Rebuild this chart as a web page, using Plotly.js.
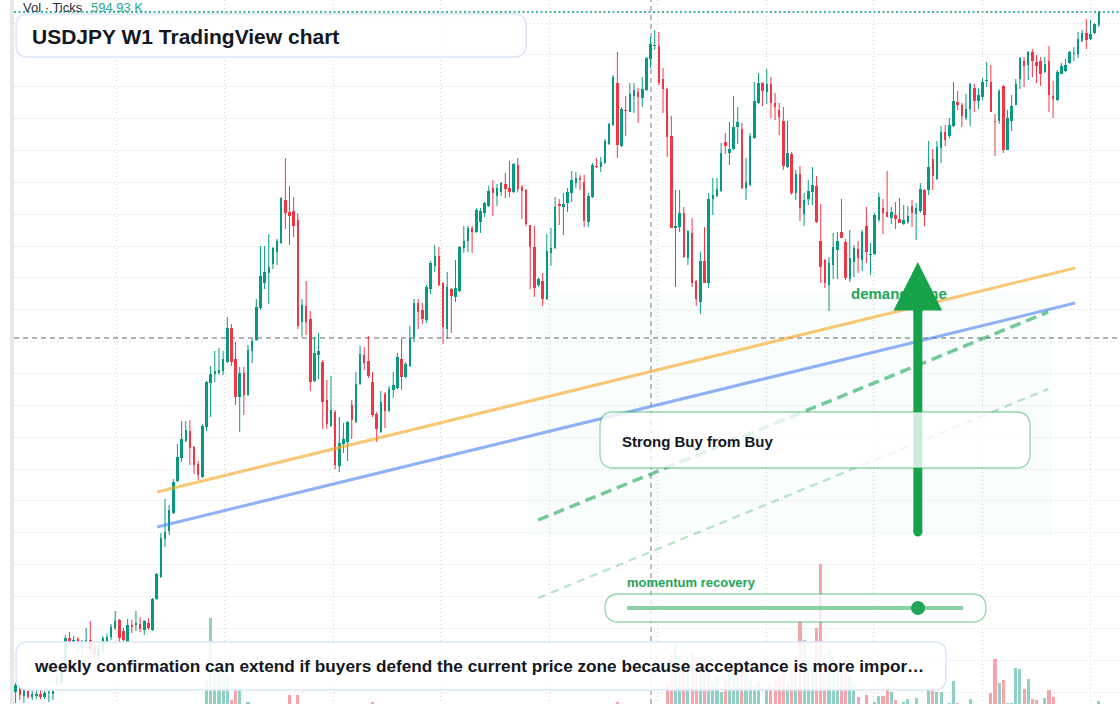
<!DOCTYPE html>
<html>
<head>
<meta charset="utf-8">
<script src="https://cdn.plot.ly/plotly-3.0.1.min.js"></script>
<style>
  html, body { margin: 0; padding: 0; background: #ffffff; }
  #chart { width: 1120px; height: 704px; }
</style>
</head>
<body>
<div id="chart"></div>
<script>
// USDJPY weekly candles (first bar: week of 2019-07-15)
const firstWeekUTC = Date.UTC(2019, 6, 15);

const opens = [
  100.8, 101.2, 100.4, 100.9, 100.3, 100.4, 100.6, 100.3, 100.7, 100.6,
  101.6, 101.8, 103.0, 106.2, 105.8, 106.1, 105.2, 105.8, 106.0, 105.2,
  104.4, 105.0, 105.8, 106.3, 107.2, 108.0, 106.9, 105.8, 107.5, 107.5,
  107.6, 107.0, 107.7, 107.0, 110.1, 112.3, 116.1, 116.9, 118.7, 121.9,
  124.2, 125.9, 126.9, 125.3, 123.6, 122.3, 127.3, 131.7, 132.6, 132.7,
  132.9, 133.8, 137.2, 134.1, 130.3, 132.7, 130.5, 134.9, 136.0, 139.2,
  141.7, 142.7, 143.6, 144.8, 145.7, 150.0, 148.8, 148.9, 148.0, 137.8,
  139.4, 138.1, 131.9, 134.5, 133.8, 130.0, 127.4, 128.8, 123.4, 125.6,
  125.8, 129.5, 127.8, 131.6, 134.5, 133.9, 131.8, 128.6, 126.8, 130.6,
  128.9, 131.0, 131.2, 134.1, 132.3, 133.4, 136.3, 139.7, 139.0, 138.0,
  141.1, 143.4, 144.4, 141.7, 137.1, 141.1, 140.3, 140.9, 145.2, 145.9,
  147.2, 146.8, 147.8, 148.7, 149.4, 151.2, 150.4, 150.8, 151.6, 151.2,
  150.8, 153.5, 151.3, 151.0, 147.5, 145.3, 141.5, 141.9, 140.1, 144.7,
  145.2, 149.6, 149.3, 149.7, 150.7, 151.7, 152.2, 151.8, 147.8, 150.3,
  153.4, 153.3, 153.7, 155.6, 157.5, 161.7, 155.4, 159.0, 158.8, 160.4,
  160.8, 160.2, 161.0, 164.1, 165.4, 165.4, 162.1, 161.1, 156.4, 147.2,
  147.3, 148.7, 144.2, 146.7, 141.9, 139.8, 143.9, 141.7, 150.1, 150.4,
  150.9, 155.8, 154.7, 155.1, 157.3, 157.1, 151.2, 151.5, 156.2, 159.7,
  161.7, 160.8, 161.6, 159.7, 159.0, 157.9, 153.3, 154.6, 150.7, 152.6,
  148.6, 150.1, 150.8, 151.4, 145.9, 144.0, 141.5, 143.5, 145.0, 146.8,
  145.8, 142.1, 143.8, 145.1, 144.0, 147.4, 144.5, 144.6, 148.0, 149.2,
  148.8, 148.2, 148.5, 148.1, 147.6, 147.8, 149.4, 148.6, 148.9, 151.0,
  151.0, 154.1, 152.1, 155.2, 156.8, 156.4, 157.4, 159.8, 159.5, 158.2,
  159.1, 161.2, 159.9, 160.3, 161.9, 161.8, 157.9, 157.9, 161.4, 155.0,
  157.9, 159.5, 162.1, 163.9, 163.5, 164.8, 163.8, 163.9, 162.8, 163.9,
  160.4, 160.0, 162.6, 162.9, 163.7, 164.65, 164.6, 165.9, 166.7, 166.1,
  166.7, 167.5
];

const highs = [
  101.7, 101.5, 101.1, 101.2, 101.0, 101.0, 101.0, 100.9, 101.0, 101.1,
  102.4, 103.2, 106.5, 106.8, 106.4, 106.3, 106.0, 107.2, 107.9, 105.6,
  105.5, 106.4, 106.6, 107.6, 108.9, 108.1, 107.2, 108.1, 108.0, 108.9,
  108.3, 108.0, 108.2, 110.2, 112.7, 116.7, 120.1, 119.5, 122.1, 125.6,
  127.9, 127.9, 128.0, 125.4, 123.9, 127.6, 131.9, 133.4, 134.9, 135.2,
  134.9, 138.3, 137.6, 135.8, 133.3, 133.3, 135.5, 136.1, 140.1, 145.4,
  145.4, 146.6, 145.3, 146.1, 150.3, 154.2, 151.4, 150.3, 148.7, 140.1,
  141.9, 138.9, 136.3, 136.7, 134.0, 132.0, 132.4, 129.0, 128.3, 127.7,
  127.9, 130.0, 132.8, 135.4, 135.3, 136.4, 132.8, 128.8, 130.9, 130.8,
  131.4, 132.8, 134.7, 136.1, 133.8, 137.4, 140.1, 140.1, 139.7, 141.5,
  143.9, 145.5, 145.3, 141.8, 142.8, 141.2, 144.0, 145.4, 147.4, 147.4,
  147.4, 149.2, 149.2, 149.8, 151.4, 152.0, 151.6, 151.8, 152.7, 153.9,
  153.7, 154.2, 151.5, 151.1, 147.5, 147.4, 142.2, 142.7, 146.6, 147.2,
  150.3, 150.1, 150.7, 151.2, 152.9, 152.8, 152.5, 152.5, 150.7, 153.7,
  154.2, 154.3, 156.1, 157.7, 162.5, 164.8, 159.3, 160.4, 161.7, 161.7,
  161.2, 162.3, 164.3, 166.3, 167.0, 166.8, 163.2, 161.2, 158.4, 151.0,
  151.0, 149.3, 147.0, 148.2, 142.0, 144.8, 147.3, 150.7, 152.2, 152.2,
  155.7, 156.7, 157.8, 160.4, 159.3, 157.7, 154.2, 156.7, 161.8, 162.7,
  161.8, 163.1, 162.3, 160.7, 159.7, 159.3, 157.9, 154.8, 153.0, 153.4,
  150.7, 152.0, 153.3, 152.4, 149.6, 144.1, 144.3, 146.7, 146.8, 150.1,
  146.1, 147.0, 145.5, 145.9, 147.0, 149.3, 145.7, 148.7, 150.7, 150.1,
  152.9, 149.3, 149.8, 150.2, 149.5, 149.4, 150.0, 149.7, 151.7, 151.1,
  155.9, 155.1, 155.9, 157.4, 157.5, 158.2, 161.8, 160.9, 159.7, 160.6,
  161.7, 161.6, 161.2, 162.2, 163.8, 163.5, 158.6, 161.1, 161.5, 159.0,
  160.5, 162.1, 164.3, 164.3, 164.9, 165.1, 164.5, 164.3, 164.3, 165.4,
  161.9, 163.0, 163.7, 164.1, 164.9, 165.3, 166.8, 167.0, 168.1, 168.0,
  167.7, 168.9
];

const lows = [
  99.7, 100.0, 99.7, 100.1, 100.0, 100.1, 100.1, 100.1, 99.8, 100.0,
  101.4, 101.6, 102.8, 105.0, 105.2, 104.8, 104.5, 105.2, 104.6, 104.0,
  104.0, 104.5, 105.3, 106.0, 107.0, 105.7, 105.7, 105.6, 106.7, 106.9,
  106.8, 106.5, 107.0, 106.9, 110.0, 112.2, 115.3, 116.5, 118.6, 121.8,
  123.8, 125.8, 123.5, 122.6, 122.0, 122.2, 126.9, 128.3, 131.8, 132.5,
  132.5, 133.7, 133.4, 129.5, 126.8, 128.5, 130.4, 133.7, 135.9, 139.0,
  141.1, 139.6, 143.1, 143.5, 145.6, 147.1, 145.5, 146.3, 137.1, 136.3,
  136.5, 130.9, 131.8, 132.1, 127.1, 127.1, 127.3, 123.1, 122.8, 124.7,
  123.9, 126.1, 127.7, 131.5, 133.0, 132.2, 128.3, 125.8, 126.7, 127.2,
  128.8, 130.2, 131.1, 131.0, 132.2, 133.3, 135.8, 137.1, 137.6, 137.7,
  140.6, 142.8, 141.4, 135.6, 136.1, 136.7, 139.8, 140.8, 144.7, 144.8,
  144.7, 146.7, 146.7, 148.3, 149.3, 148.4, 149.4, 150.4, 150.2, 150.3,
  150.7, 150.8, 148.1, 147.4, 141.1, 140.3, 141.3, 139.4, 140.0, 143.4,
  145.1, 147.5, 146.5, 148.8, 149.8, 151.2, 151.0, 147.3, 147.3, 150.2,
  153.2, 152.8, 153.6, 155.5, 157.4, 154.2, 155.3, 156.4, 158.8, 158.7,
  157.7, 159.3, 160.9, 163.2, 165.0, 161.5, 158.7, 154.3, 147.2, 141.3,
  146.8, 144.2, 143.5, 141.3, 139.4, 138.6, 141.7, 141.2, 148.5, 150.3,
  150.8, 154.6, 153.5, 155.0, 155.6, 151.1, 150.0, 151.4, 156.1, 159.6,
  159.4, 159.6, 158.2, 158.0, 156.5, 153.0, 153.2, 150.5, 150.0, 147.9,
  147.4, 149.5, 149.5, 147.7, 141.7, 141.2, 138.9, 142.1, 142.1, 146.2,
  142.0, 141.8, 142.3, 142.7, 142.9, 143.7, 142.5, 144.5, 147.8, 146.6,
  148.3, 147.6, 147.1, 147.7, 147.5, 147.6, 147.3, 146.0, 148.7, 147.4,
  150.5, 151.0, 152.0, 153.7, 155.4, 156.2, 157.3, 159.0, 157.3, 158.0,
  157.4, 158.8, 159.1, 160.0, 161.3, 158.8, 154.4, 157.6, 154.7, 155.0,
  156.9, 159.5, 161.1, 161.3, 162.0, 162.3, 161.7, 161.4, 162.7, 158.8,
  158.2, 159.9, 162.6, 162.8, 163.6, 163.9, 164.2, 165.8, 165.1, 166.0,
  166.6, 167.3
];

const closes = [
  101.5, 100.5, 101.0, 100.3, 100.6, 100.6, 100.3, 100.7, 100.8, 100.9,
  102.2, 102.9, 106.2, 105.7, 106.0, 105.7, 105.8, 106.0, 105.0, 104.5,
  105.2, 106.2, 106.3, 107.3, 107.9, 106.2, 106.0, 107.5, 107.35, 107.7,
  107.1, 107.9, 107.2, 110.1, 112.6, 116.2, 116.8, 119.0, 121.8, 124.3,
  126.1, 127.0, 125.2, 123.5, 122.5, 127.4, 131.8, 132.6, 132.9, 133.0,
  134.1, 137.2, 133.8, 130.3, 132.7, 130.5, 135.0, 135.9, 139.3, 142.4,
  142.8, 143.3, 145.2, 145.9, 150.2, 148.7, 148.4, 147.4, 137.4, 139.5,
  137.8, 131.8, 134.7, 134.9, 129.8, 127.6, 129.0, 123.5, 125.7, 126.1,
  127.8, 128.0, 131.6, 134.6, 133.7, 132.4, 128.5, 127.1, 129.8, 128.9,
  131.1, 131.5, 134.3, 132.3, 133.6, 136.2, 139.7, 138.8, 138.1, 141.3,
  143.7, 144.4, 141.5, 137.3, 141.3, 140.4, 141.2, 145.3, 145.9, 147.2,
  146.8, 149.0, 148.9, 149.7, 150.9, 150.7, 151.2, 151.7, 151.1, 150.8,
  153.6, 151.1, 150.9, 147.6, 145.3, 141.2, 142.1, 140.1, 144.9, 145.2,
  149.3, 149.4, 149.6, 150.8, 152.0, 152.2, 152.0, 147.9, 150.4, 153.5,
  153.3, 153.8, 155.9, 157.6, 162.3, 155.5, 159.1, 158.9, 160.6, 161.0,
  160.3, 161.1, 164.2, 165.6, 165.5, 161.7, 161.1, 156.3, 147.2, 147.4,
  148.7, 144.3, 146.9, 141.7, 140.1, 143.9, 141.7, 150.1, 150.5, 151.1,
  154.7, 155.4, 155.1, 157.3, 157.8, 151.2, 151.8, 156.4, 159.9, 161.7,
  160.9, 161.6, 159.7, 159.3, 158.3, 153.4, 154.7, 150.7, 152.6, 149.2,
  150.0, 150.9, 151.5, 147.8, 143.3, 141.7, 143.7, 145.3, 145.9, 146.2,
  142.2, 144.2, 145.2, 144.2, 146.8, 144.8, 144.6, 148.5, 150.3, 148.7,
  148.3, 148.8, 148.1, 147.7, 148.0, 148.4, 148.7, 149.2, 151.1, 148.5,
  153.3, 152.4, 155.3, 156.8, 156.0, 157.5, 159.9, 159.5, 158.4, 159.1,
  161.6, 159.9, 160.5, 161.8, 162.0, 158.8, 157.8, 160.9, 155.0, 158.2,
  159.4, 161.6, 164.2, 163.4, 164.8, 163.9, 163.4, 162.6, 163.6, 160.5,
  160.1, 162.8, 163.4, 163.5, 164.8, 164.75, 166.1, 166.7, 166.0, 166.6,
  167.6, 168.8
];

// Tick volume per week, in thousands
const volumesK = [
  0, 0, 0, 0, 0, 0, 0, 0, 0, 0,
  0, 0, 0, 0, 0, 0, 0, 0, 0, 0,
  0, 0, 0, 0, 0, 0, 0, 0, 0, 0,
  0, 0, 0, 0, 0, 0, 0, 0, 0, 0,
  0, 0, 0, 0, 0, 0, 4760, 17050, 7730, 7140,
  6150, 5350, 790, 2780, 2780, 0, 400, 0, 0, 0,
  0, 0, 0, 0, 0, 0, 1780, 0, 1780, 0,
  0, 0, 0, 0, 0, 0, 0, 0, 0, 0,
  0, 0, 0, 0, 0, 0, 400, 0, 0, 0,
  0, 0, 0, 0, 0, 0, 0, 0, 0, 0,
  0, 0, 0, 0, 0, 0, 0, 0, 0, 0,
  0, 0, 0, 0, 0, 0, 0, 0, 0, 0,
  0, 0, 0, 0, 0, 0, 0, 0, 0, 0,
  0, 0, 0, 0, 0, 0, 0, 0, 0, 0,
  0, 0, 0, 0, 0, 400, 0, 0, 0, 0,
  0, 0, 0, 0, 0, 0, 0, 4160, 9920, 12100,
  9720, 8730, 8730, 10110, 9320, 9120, 9120, 6740, 4360, 5550,
  2380, 5160, 6740, 8130, 6740, 7340, 6740, 4760, 3770, 4560,
  0, 2780, 4160, 4760, 5750, 7730, 4160, 6740, 8130, 16460,
  12690, 8720, 7730, 15070, 27760, 9720, 10710, 8720, 6740, 7730,
  8720, 5750, 3770, 1390, 0, 1790, 0, 400, 1590, 1590,
  3570, 2380, 790, 0, 400, 990, 0, 1190, 0, 0,
  2780, 3170, 2380, 2380, 0, 200, 4560, 200, 0, 0,
  990, 0, 0, 0, 0, 2180, 8920, 4160, 4760, 200,
  200, 7140, 6940, 2970, 4960, 990, 790, 0, 1190, 2780,
  1390, 0, 0, 0, 0, 0, 0, 0, 0, 0,
  0, 594.93
];

// Chart drawings, anchored at [week index, price]
const trendUpper = [[34.1, 120.8], [255.3, 143.2]];
const trendLower = [[34.1, 117.3], [255.3, 139.7]];
const channelMid = [[125.9, 118.0], [248.8, 138.8]];
const channelLow = [[125.9, 110.2], [248.8, 131.1]];
const demandZone = {weeks: [123.5, 249.7], prices: [116.5, 140.8]};
const crosshair = {week: 153.1, price: 136.2};
const buyArrow = {week: 217.4, tail: 116.8, headBase: 139.4, tip: 143.8};

// Text shown on the chart
const titleText = 'USDJPY W1 TradingView chart';
const noteText = 'weekly confirmation can extend if buyers defend the current price zone because acceptance is more impor\u2026';
const ratingText = 'Strong Buy from Buy';
const momentumText = 'momentum recovery';
const zoneText = 'demand zone';
const volumeName = 'Vol \u00b7 Ticks';

// ---------------------------------------------------------------
const DAY = 86400000, WEEK = 7 * DAY;
const fmt = ms => new Date(ms).toISOString().replace('T', ' ').slice(0, 19);
const atWeek = k => fmt(firstWeekUTC + k * WEEK);
const weekDates = opens.map((_, i) => atWeek(i));

const UP = '#089981', DOWN = '#f23645';
const isUp = closes.map((c, i) => c >= opens[i]);

function wicks(up) {
  const x = [], y = [];
  opens.forEach((o, i) => {
    if (isUp[i] !== up) return;
    x.push(weekDates[i], weekDates[i], null);
    y.push(lows[i], highs[i], null);
  });
  return {
    type: 'scatter', mode: 'lines', x, y,
    line: {color: up ? UP : DOWN, width: 1},
    hoverinfo: 'skip', showlegend: false
  };
}

const volumeTrace = {
  type: 'bar', x: weekDates, y: volumesK, yaxis: 'y2',
  width: 0.75 * WEEK,
  marker: {color: isUp.map(u => u ? 'rgba(8,153,129,0.45)' : 'rgba(242,54,69,0.45)'), line: {width: 0}},
  hoverinfo: 'skip', showlegend: false
};

const bodyTrace = {
  type: 'bar', x: weekDates,
  base: opens.map((o, i) => Math.min(o, closes[i])),
  y: opens.map((o, i) => Math.max(Math.abs(closes[i] - o), 0.1)),
  width: 0.6 * WEEK,
  marker: {color: isUp.map(u => u ? UP : DOWN), line: {width: 0}},
  hoverinfo: 'skip', showlegend: false
};

// pixel helpers for overlay panels (plot area starts 14px from the left)
const W = 1106, H = 704, L = 14;
const px = v => (v - L) / W;
const py = v => 1 - v / H;

function roundedPanel(x0, y0, x1, y1, r) {
  const p = (x, y) => px(x).toFixed(5) + ',' + py(y).toFixed(5);
  return 'M' + p(x0 + r, y0) + ' L' + p(x1 - r, y0) + ' Q' + p(x1, y0) + ' ' + p(x1, y0 + r) +
         ' L' + p(x1, y1 - r) + ' Q' + p(x1, y1) + ' ' + p(x1 - r, y1) +
         ' L' + p(x0 + r, y1) + ' Q' + p(x0, y1) + ' ' + p(x0, y1 - r) +
         ' L' + p(x0, y0 + r) + ' Q' + p(x0, y0) + ' ' + p(x0 + r, y0) + ' Z';
}

const seg = (pts, line) => ({
  type: 'line', xref: 'x', yref: 'y', layer: 'above',
  x0: atWeek(pts[0][0]), y0: pts[0][1], x1: atWeek(pts[1][0]), y1: pts[1][1], line
});

const GREEN = '#16a34a';
const shapes = [
  // left rail
  {type: 'rect', xref: 'paper', yref: 'paper', x0: px(10), x1: px(14), y0: 0, y1: 1,
   fillcolor: '#e8e8e8', line: {width: 0}, layer: 'below'},
  // demand zone
  {type: 'rect', xref: 'x', yref: 'y', layer: 'below',
   x0: atWeek(demandZone.weeks[0]), x1: atWeek(demandZone.weeks[1]),
   y0: demandZone.prices[0], y1: demandZone.prices[1],
   fillcolor: 'rgba(34,197,94,0.028)', line: {width: 0}},
  // crosshair
  {type: 'line', xref: 'x', yref: 'paper', layer: 'below',
   x0: atWeek(crosshair.week), x1: atWeek(crosshair.week), y0: 0, y1: 1,
   line: {color: '#9b9b9b', width: 1.3, dash: '5px,4px'}},
  {type: 'line', xref: 'paper', yref: 'y', layer: 'below',
   x0: 0, x1: 1, y0: crosshair.price, y1: crosshair.price,
   line: {color: '#9b9b9b', width: 1.3, dash: '5px,4px'}},
  // last price
  {type: 'line', xref: 'paper', yref: 'y', layer: 'below',
   x0: 0, x1: 1, y0: closes[closes.length - 1], y1: closes[closes.length - 1],
   line: {color: UP, width: 1.4, dash: '2px,2.5px'}},
  // trend lines
  seg(trendUpper, {color: 'rgba(245,166,35,0.62)', width: 3}),
  seg(trendLower, {color: 'rgba(66,120,240,0.58)', width: 3}),
  seg(channelMid, {color: 'rgba(34,170,90,0.62)', width: 3.5, dash: '11px,6px'}),
  seg(channelLow, {color: 'rgba(34,170,90,0.32)', width: 2.2, dash: '8px,6px'}),
  // arrow shaft
  {type: 'line', xref: 'x', yref: 'y', layer: 'above',
   x0: atWeek(buyArrow.week), x1: atWeek(buyArrow.week), y0: buyArrow.tail, y1: buyArrow.headBase,
   line: {color: GREEN, width: 9}},
  {type: 'circle', xref: 'x', yref: 'y', layer: 'above',
   xsizemode: 'pixel', ysizemode: 'pixel',
   xanchor: atWeek(buyArrow.week), yanchor: buyArrow.tail,
   x0: -4.5, x1: 4.5, y0: -4.5, y1: 4.5,
   fillcolor: GREEN, line: {width: 0}},
  // panels
  {type: 'path', xref: 'paper', yref: 'paper', layer: 'above',
   path: roundedPanel(16, 14, 526, 57, 12),
   fillcolor: 'rgba(255,255,255,0.96)', line: {color: '#dbe6f8', width: 1.5}},
  {type: 'path', xref: 'paper', yref: 'paper', layer: 'above',
   path: roundedPanel(16, 642, 946, 690, 12),
   fillcolor: 'rgba(255,255,255,0.88)', line: {color: '#dbe6f8', width: 1.5}},
  {type: 'path', xref: 'paper', yref: 'paper', layer: 'above',
   path: roundedPanel(600, 412, 1030, 468, 14),
   fillcolor: 'rgba(255,255,255,0.78)', line: {color: 'rgba(22,163,74,0.45)', width: 1.3}},
  {type: 'path', xref: 'paper', yref: 'paper', layer: 'above',
   path: roundedPanel(605, 594, 986, 622, 14),
   fillcolor: 'rgba(255,255,255,0.78)', line: {color: 'rgba(22,163,74,0.45)', width: 1.3}},
  // momentum gauge
  {type: 'line', xref: 'paper', yref: 'paper', layer: 'above',
   x0: px(627), x1: px(963), y0: py(608), y1: py(608),
   line: {color: 'rgba(22,163,74,0.5)', width: 4}},
  {type: 'circle', xref: 'paper', yref: 'paper', layer: 'above',
   x0: px(911), x1: px(925), y0: py(615), y1: py(601),
   fillcolor: '#22a559', line: {width: 0}}
];

const FONT = 'Liberation Sans, Arial, Helvetica, sans-serif';
const label = (text, x, y, size, color) => ({
  text, x: px(x), y: py(y), xref: 'paper', yref: 'paper',
  xanchor: 'left', yanchor: 'middle', showarrow: false,
  font: {family: FONT, size, color}
});

const annotations = [
  label(volumeName, 21, 8, 13, '#2a2e39'),
  label('594.93 K', 88.5, 8, 13, '#22ab94'),
  label('<b>' + titleText + '</b>', 30, 36, 21, '#131722'),
  label('<b>' + noteText + '</b>', 32, 666, 17.2, '#131722'),
  label('<b>' + ratingText + '</b>', 620, 441, 15, '#131722'),
  label('<b>' + momentumText + '</b>', 625, 582, 13, '#22a559'),
  label('<b>' + zoneText + '</b>', 849, 293, 15, '#22a559'),
  // arrow head, drawn over the zone caption
  {x: atWeek(buyArrow.week), y: buyArrow.tip, xref: 'x', yref: 'y',
   ax: 0, ay: 52, text: '', showarrow: true, arrowhead: 2, arrowsize: 1.08,
   arrowwidth: 9, arrowcolor: GREEN, standoff: 0}
];

const gridStyle = {showgrid: true, gridcolor: '#d2d5d9', gridwidth: 1, griddash: '1px,3px',
                   showticklabels: false, ticks: '', zeroline: false, showline: false, fixedrange: true};

const layout = {
  width: 1120, height: 704,
  margin: {l: 14, r: 0, t: 0, b: 0, pad: 0},
  paper_bgcolor: '#ffffff', plot_bgcolor: '#ffffff',
  showlegend: false, hovermode: false,
  barmode: 'overlay', bargap: 0,
  xaxis: Object.assign({type: 'date',
    range: [fmt(firstWeekUTC - 2.7 * DAY), fmt(firstWeekUTC + 1862.8 * DAY)],
    tick0: '2020-01-01', dtick: 'M6'}, gridStyle),
  yaxis: Object.assign({range: [99.6, 170], tick0: 167.7, dtick: 3.186}, gridStyle),
  yaxis2: {overlaying: 'y', range: [0, 139600], visible: false, showgrid: false, fixedrange: true},
  shapes, annotations
};

Plotly.newPlot('chart', [volumeTrace, wicks(true), wicks(false), bodyTrace], layout,
  {displayModeBar: false, staticPlot: true});
</script>
</body>
</html>
